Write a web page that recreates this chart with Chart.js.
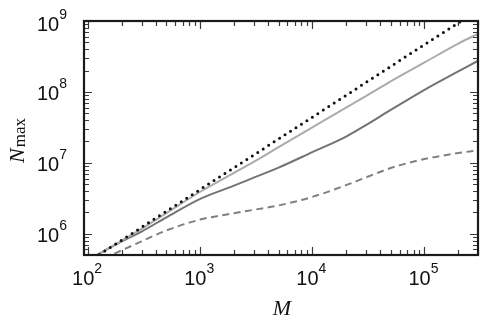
<!DOCTYPE html>
<html>
<head>
<meta charset="utf-8">
<script src="https://cdn.jsdelivr.net/npm/chart.js@4.4.0/dist/chart.umd.min.js"></script>
<style>
html, body { margin: 0; padding: 0; background: #fff; }
#wrap { width: 486px; height: 321px; }
</style>
</head>
<body>
<div id="wrap"><canvas id="mycanvas" width="486" height="321"></canvas></div>
<script>
// values
var mValues      = [90, 125, 200, 300, 500, 1000, 2000, 3000, 5000, 1e4, 2e4, 3e4, 5e4, 1e5, 2e5, 3e5];
var lightValues  = [3.8e5, 5.2e5, 8.0e5, 1.17e6, 1.95e6, 3.9e6, 7.2e6, 1.03e7, 1.66e7, 3.16e7, 6.0e7, 8.7e7, 1.41e8, 2.6e8, 4.8e8, 6.6e8];
var darkValues   = [3.8e5, 5.2e5, 7.8e5, 1.07e6, 1.7e6, 3.1e6, 4.75e6, 6.17e6, 8.55e6, 1.41e7, 2.34e7, 3.39e7, 5.56e7, 1.07e8, 1.95e8, 2.75e8];
var dashedValues = [3.3e5, 4.2e5, 5.82e5, 7.8e5, 1.11e6, 1.58e6, 1.94e6, 2.17e6, 2.5e6, 3.3e6, 4.83e6, 6.21e6, 8.43e6, 1.13e7, 1.37e7, 1.5e7];
var boundM       = [90, 1000, 1e4, 1e5, 3e5];
var boundValues  = [3.6e5, 4.2e6, 4.4e7, 4.65e8, 1.42e9];
var xTickValues  = [1e2, 1e3, 1e4, 1e5];
var yTickValues  = [1e6, 1e7, 1e8, 1e9];
var xLabels      = ['2', '3', '4', '5'];
var yLabels      = ['6', '7', '8', '9'];

function points(xs, ys) {
    var out = [];
    for (var i = 0; i < xs.length; i++) {
        out.push({ x: xs[i], y: ys[i] });
    }
    return out;
}

function minorTicks(min, max) {
    var out = [];
    var d = Math.pow(10, Math.floor(Math.log10(min)));
    for (; d <= max; d *= 10) {
        for (var k = 1; k <= 9; k++) {
            var v = k * d;
            if (v >= min && v <= max) out.push({ v: v, major: k === 1 });
        }
    }
    return out;
}

var framePlugin = {
    id: 'frame',
    afterDatasetsDraw: function (chart) {
        var ctx = chart.ctx;
        var a = chart.chartArea;
        var xs = chart.scales.x, ys = chart.scales.y;
        ctx.save();

        // inward ticks on all four sides
        ctx.strokeStyle = '#3a3a3a';
        ctx.lineWidth = 1.2;
        ctx.beginPath();
        minorTicks(xs.min, xs.max).forEach(function (t) {
            var px = Math.round(xs.getPixelForValue(t.v)) + 0.5;
            var len = t.major ? 8 : 5;
            ctx.moveTo(px, a.bottom); ctx.lineTo(px, a.bottom - len);
            ctx.moveTo(px, a.top); ctx.lineTo(px, a.top + len);
        });
        minorTicks(ys.min, ys.max).forEach(function (t) {
            var py = Math.round(ys.getPixelForValue(t.v)) + 0.5;
            var len = t.major ? 8 : 5;
            ctx.moveTo(a.left, py); ctx.lineTo(a.left + len, py);
            ctx.moveTo(a.right, py); ctx.lineTo(a.right - len, py);
        });
        ctx.stroke();

        // frame
        ctx.strokeStyle = '#1a1a1a';
        ctx.lineWidth = 2.2;
        ctx.strokeRect(a.left, a.top, a.right - a.left, a.bottom - a.top);

        // tick labels 10^n
        ctx.fillStyle = '#111';
        ctx.textBaseline = 'alphabetic';
        ctx.textAlign = 'left';
        var big = '20px "Liberation Sans", Arial, sans-serif';
        var small = '14px "Liberation Sans", Arial, sans-serif';
        xTickValues.forEach(function (v, i) {
            var px = xs.getPixelForValue(v);
            ctx.font = big; var w1 = ctx.measureText('10').width;
            ctx.font = small; var w2 = ctx.measureText(xLabels[i]).width;
            var start = px - (w1 + w2) / 2 - 1;
            ctx.font = big; ctx.fillText('10', start, a.bottom + 30);
            ctx.font = small; ctx.fillText(xLabels[i], start + w1, a.bottom + 18);
        });
        yTickValues.forEach(function (v, i) {
            var py = ys.getPixelForValue(v);
            ctx.font = big; var w1 = ctx.measureText('10').width;
            ctx.font = small; var w2 = ctx.measureText(yLabels[i]).width;
            var start = a.left - 17 - (w1 + w2);
            var base = Math.max(py + 8, 31);
            ctx.font = big; ctx.fillText('10', start, base);
            ctx.font = small; ctx.fillText(yLabels[i], start + w1, base - 12);
        });

        // axis titles
        ctx.font = 'italic 22px "Liberation Serif", "Times New Roman", serif';
        ctx.textAlign = 'center';
        ctx.fillText('M', (a.left + a.right) / 2 + 1, 315);

        ctx.translate(24, 141);
        ctx.rotate(-Math.PI / 2);
        ctx.textAlign = 'left';
        ctx.font = 'italic 22px "Liberation Serif", "Times New Roman", serif';
        var wN = ctx.measureText('N').width;
        ctx.font = '17px "Liberation Serif", "Times New Roman", serif';
        var wSub = ctx.measureText('max').width;
        var s = -(wN + wSub) / 2;
        ctx.font = 'italic 22px "Liberation Serif", "Times New Roman", serif';
        ctx.fillText('N', s, 0);
        ctx.font = '17px "Liberation Serif", "Times New Roman", serif';
        ctx.fillText('max', s + wN + 1, 1);

        ctx.restore();
    }
};

var chartdata = {
    datasets: [
        {
            label: 'bound',
            data: points(boundM, boundValues),
            borderColor: '#111111',
            borderWidth: 3,
            borderDash: [0, 6.5],
            borderCapStyle: 'round',
            tension: 0
        },
        {
            label: 'light',
            data: points(mValues, lightValues),
            borderColor: '#ababab',
            borderWidth: 2
        },
        {
            label: 'dark',
            data: points(mValues, darkValues),
            borderColor: '#737373',
            borderWidth: 2
        },
        {
            label: 'dashed',
            data: points(mValues, dashedValues),
            borderColor: '#808080',
            borderWidth: 2,
            borderDash: [7, 4.5]
        }
    ]
};

var ctx = document.getElementById('mycanvas');

var lineGraph = new Chart(ctx, {
    type: 'scatter',
    data: chartdata,
    options: {
        responsive: false,
        animation: false,
        showLine: true,
        elements: {
            point: { radius: 0 },
            line: { cubicInterpolationMode: 'monotone', fill: false }
        },
        layout: { padding: { left: 84, top: 21, right: 8, bottom: 66 } },
        plugins: { legend: { display: false }, tooltip: { enabled: false } },
        scales: {
            x: { type: 'logarithmic', min: 92, max: 3e5, display: false },
            y: { type: 'logarithmic', min: 5e5, max: 1e9, display: false }
        }
    },
    plugins: [framePlugin]
});
</script>
</body>
</html>
